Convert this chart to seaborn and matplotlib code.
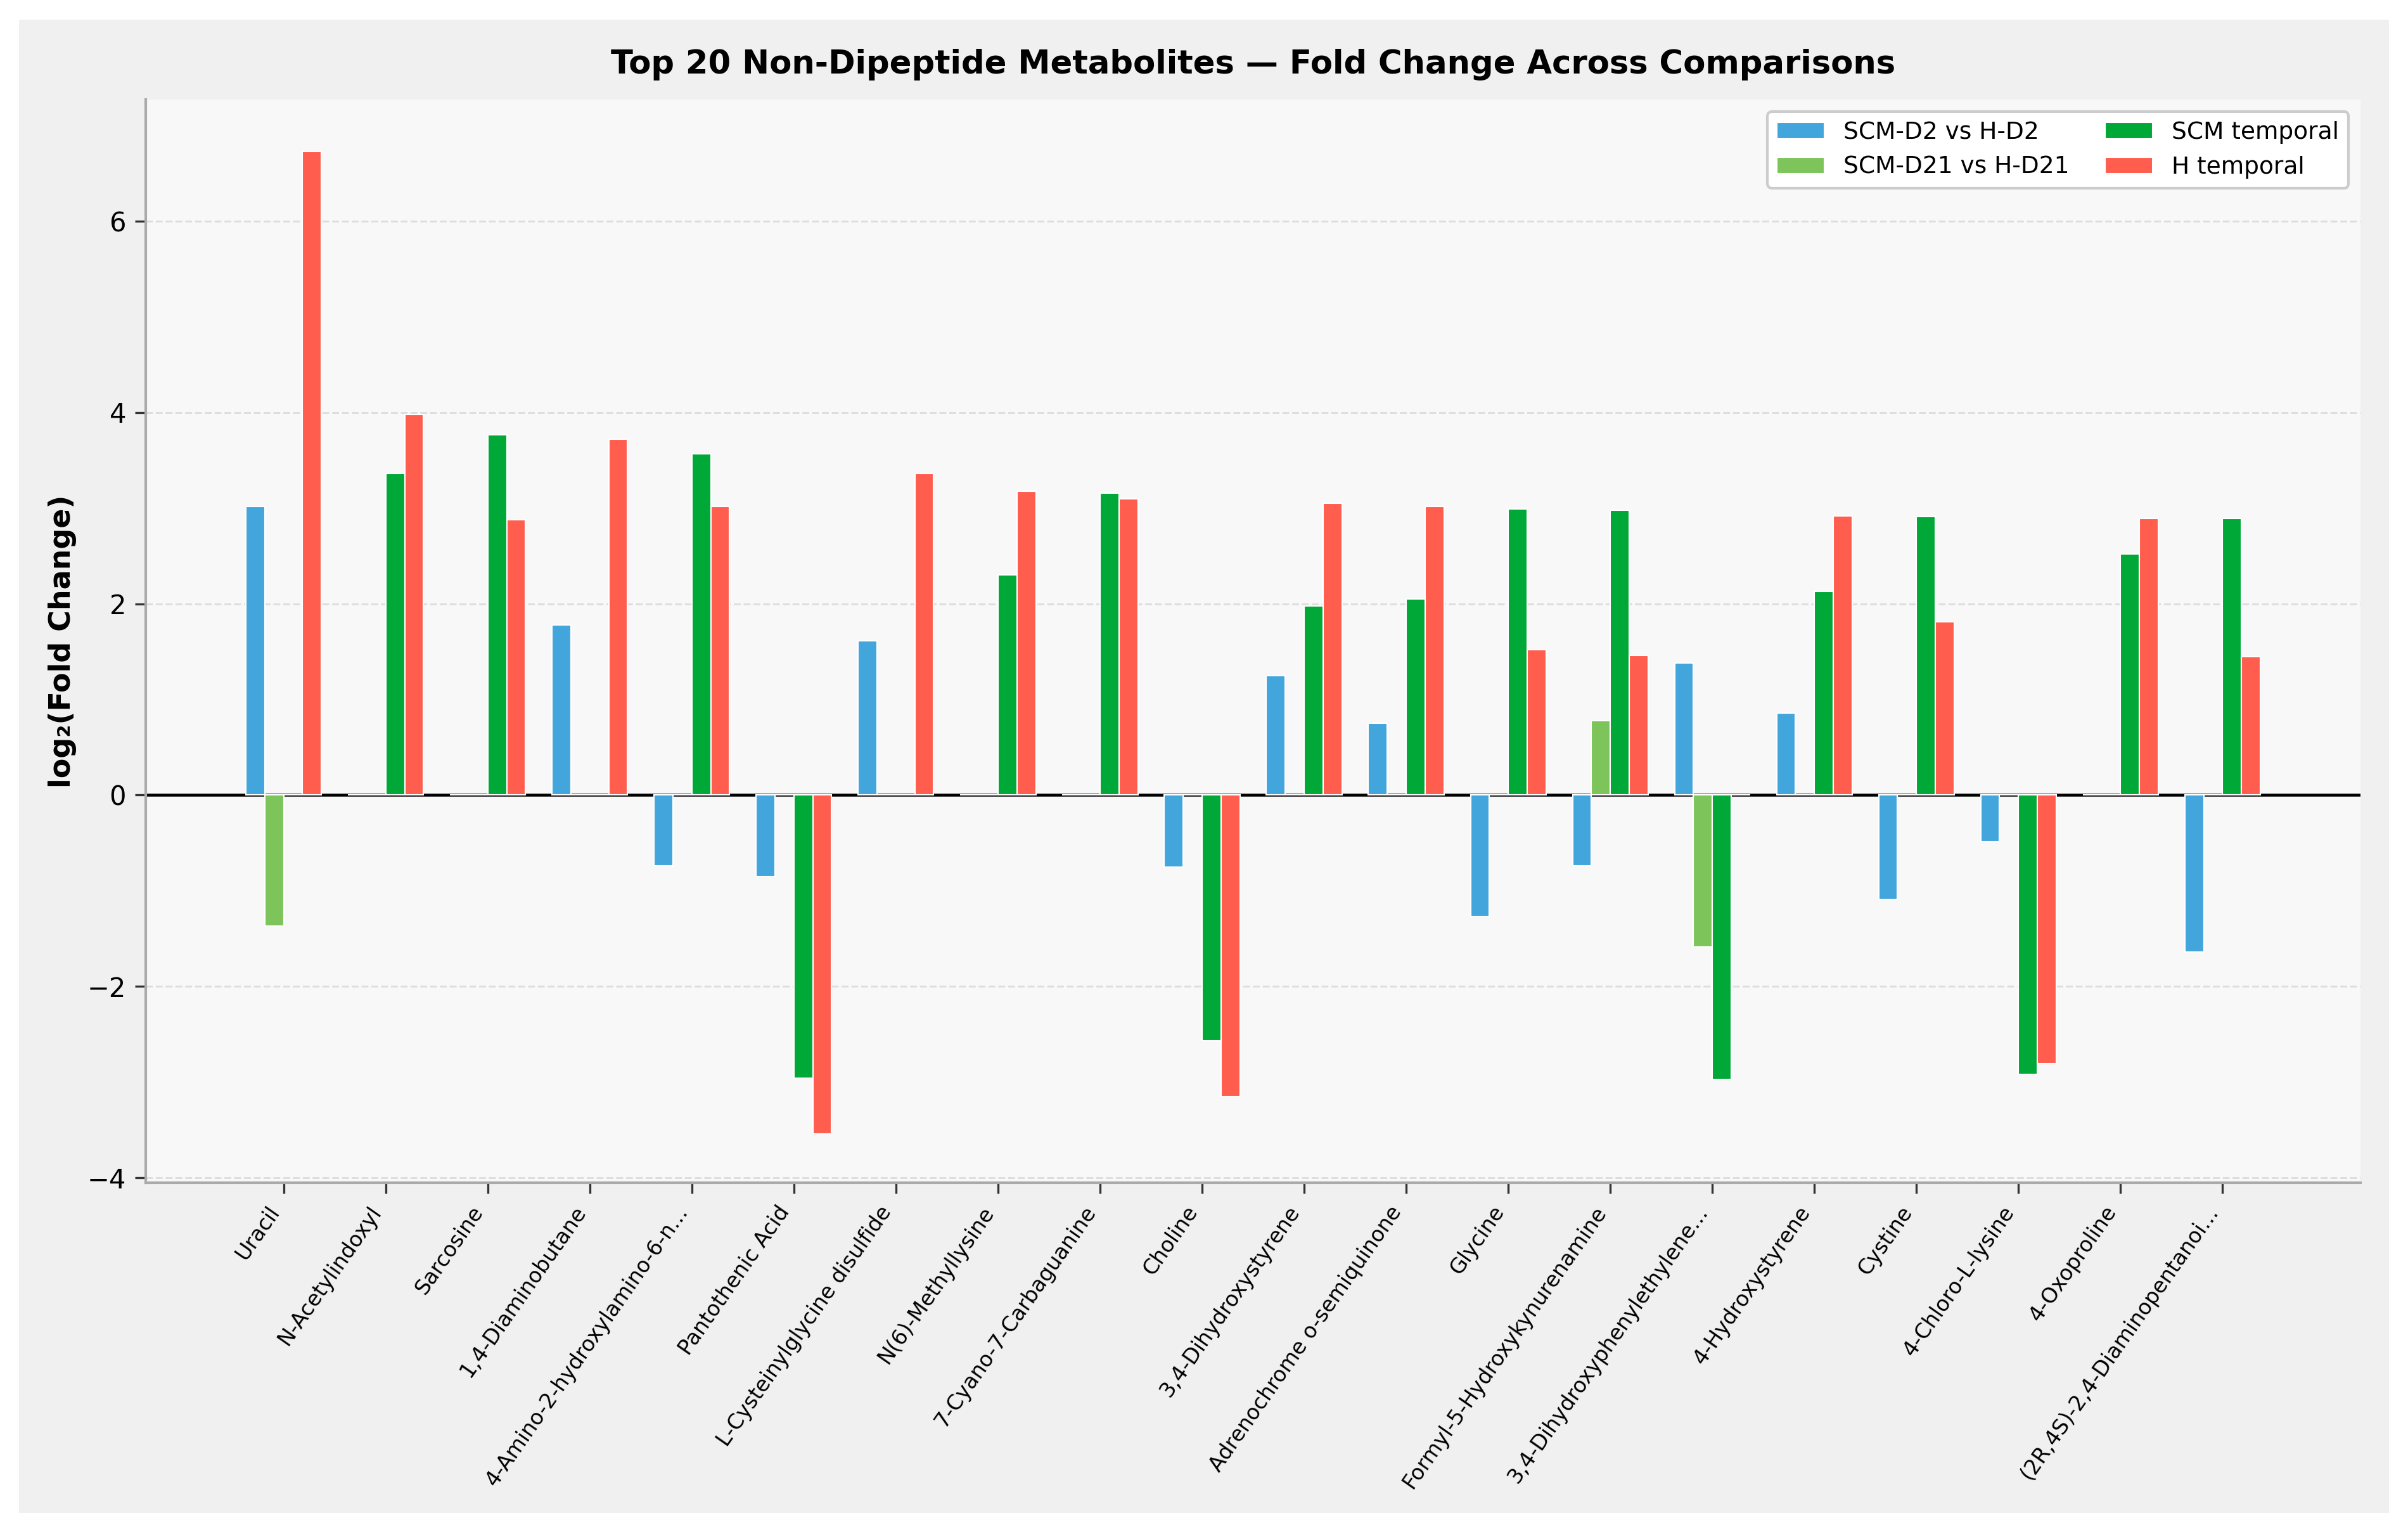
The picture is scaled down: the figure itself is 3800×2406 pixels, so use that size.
import pandas as pd
import numpy as np
import matplotlib
matplotlib.use("Agg")
import matplotlib.pyplot as plt
import seaborn as sns
from matplotlib.patches import Rectangle


## data
metabolites = ["Uracil", "N-Acetylindoxyl", "Sarcosine", "1,4-Diaminobutane",
               "4-Amino-2-hydroxylamino-6-n...", "Pantothenic Acid",
               "L-Cysteinylglycine disulfide", "N(6)-Methyllysine",
               "7-Cyano-7-Carbaguanine", "Choline", "3,4-Dihydroxystyrene",
               "Adrenochrome o-semiquinone", "Glycine",
               "Formyl-5-Hydroxykynurenamine", "3,4-Dihydroxyphenylethylene...",
               "4-Hydroxystyrene", "Cystine", "4-Chloro-L-lysine", "4-Oxoproline",
               "(2R,4S)-2,4-Diaminopentanoi..."]

scm_d2 = [3.02, 0, 0, 1.78, -0.74, -0.85, 1.61, 0, 0, -0.75,
          1.25, 0.75, -1.27, -0.74, 1.38, 0.86, -1.09, -0.49, 0, -1.64]
scm_d21 = [-1.37, 0, 0, 0, 0, 0, 0, 0, 0, 0,
           0, 0, 0, 0.78, -1.59, 0, 0, 0, 0, 0]
scm_temporal = [0, 3.36, 3.77, 0, 3.57, -2.96, 0, 2.30, 3.16, -2.57,
                1.98, 2.05, 2.99, 2.98, -2.97, 2.13, 2.91, -2.92, 2.52, 2.89]
h_temporal = [6.73, 3.98, 2.88, 3.72, 3.02, -3.54, 3.36, 3.18, 3.10, -3.15,
              3.05, 3.02, 1.52, 1.46, 0, 2.92, 1.81, -2.81, 2.89, 1.45]

comparisons = ["SCM-D2 vs H-D2", "SCM-D21 vs H-D21", "SCM temporal", "H temporal"]
colors = ["#42A6DD", "#7DC55A", "#00A838", "#FF5E4F"]

df = pd.DataFrame({
    "metabolite": metabolites * 4,
    "comparison": np.repeat(comparisons, len(metabolites)),
    "log2fc": scm_d2 + scm_d21 + scm_temporal + h_temporal,
})


## plot
sns.set_style("white")
plt.rcParams["font.family"] = ["DejaVu Sans"]
plt.rcParams["text.color"] = "black"
plt.rcParams["axes.labelcolor"] = "black"
plt.rcParams["xtick.color"] = "black"
plt.rcParams["ytick.color"] = "black"

fig = plt.figure(figsize=(3800 / 300, 2406 / 300), dpi=300, facecolor="white")
fig.patches.append(Rectangle((0.008, 0.008), 0.984, 0.979, transform=fig.transFigure,
                             facecolor="#f0f0f0", edgecolor="none", zorder=-10))
ax = fig.add_axes([0.0606, 0.2246, 0.9196, 0.710])
ax.set_facecolor("#f8f8f8")

ax.axhline(0, color="black", linewidth=1.1, zorder=0.9)
sns.barplot(data=df, x="metabolite", y="log2fc", hue="comparison",
            hue_order=comparisons, palette=colors, saturation=1, width=0.74,
            edgecolor="white", linewidth=0.5, errorbar=None, ax=ax, zorder=1)

ax.set_xlim(-1.35, 20.35)
ax.set_ylim(-4.05, 7.27)
ax.set_yticks([-4, -2, 0, 2, 4, 6])
ax.yaxis.grid(True, linestyle="--", color="#dddddd", linewidth=0.7)
ax.set_axisbelow(True)

ax.set_xlabel("")
ax.set_ylabel("log₂(Fold Change)", fontsize=11, fontweight="bold")
ax.set_title("Top 20 Non-Dipeptide Metabolites — Fold Change Across Comparisons",
             fontsize=12.3, fontweight="bold", pad=10)

ax.tick_params(axis="y", labelsize=10, left=True, length=4, width=0.8, color="#333333")
ax.tick_params(axis="x", labelsize=8, bottom=True, length=4, width=0.8, color="#333333")
plt.setp(ax.get_xticklabels(), rotation=55, ha="right")

for s in ["top", "right"]:
    ax.spines[s].set_visible(False)
for s in ["left", "bottom"]:
    ax.spines[s].set_color("#aaaaaa")
    ax.spines[s].set_linewidth(1.0)

leg = ax.legend(loc="upper right", ncol=2, fontsize=9, frameon=True,
                fancybox=True, framealpha=1.0, facecolor="white",
                edgecolor="#cccccc", columnspacing=1.5)
leg.set_title(None)

fig.savefig("out.png", dpi=300, facecolor=fig.get_facecolor())
